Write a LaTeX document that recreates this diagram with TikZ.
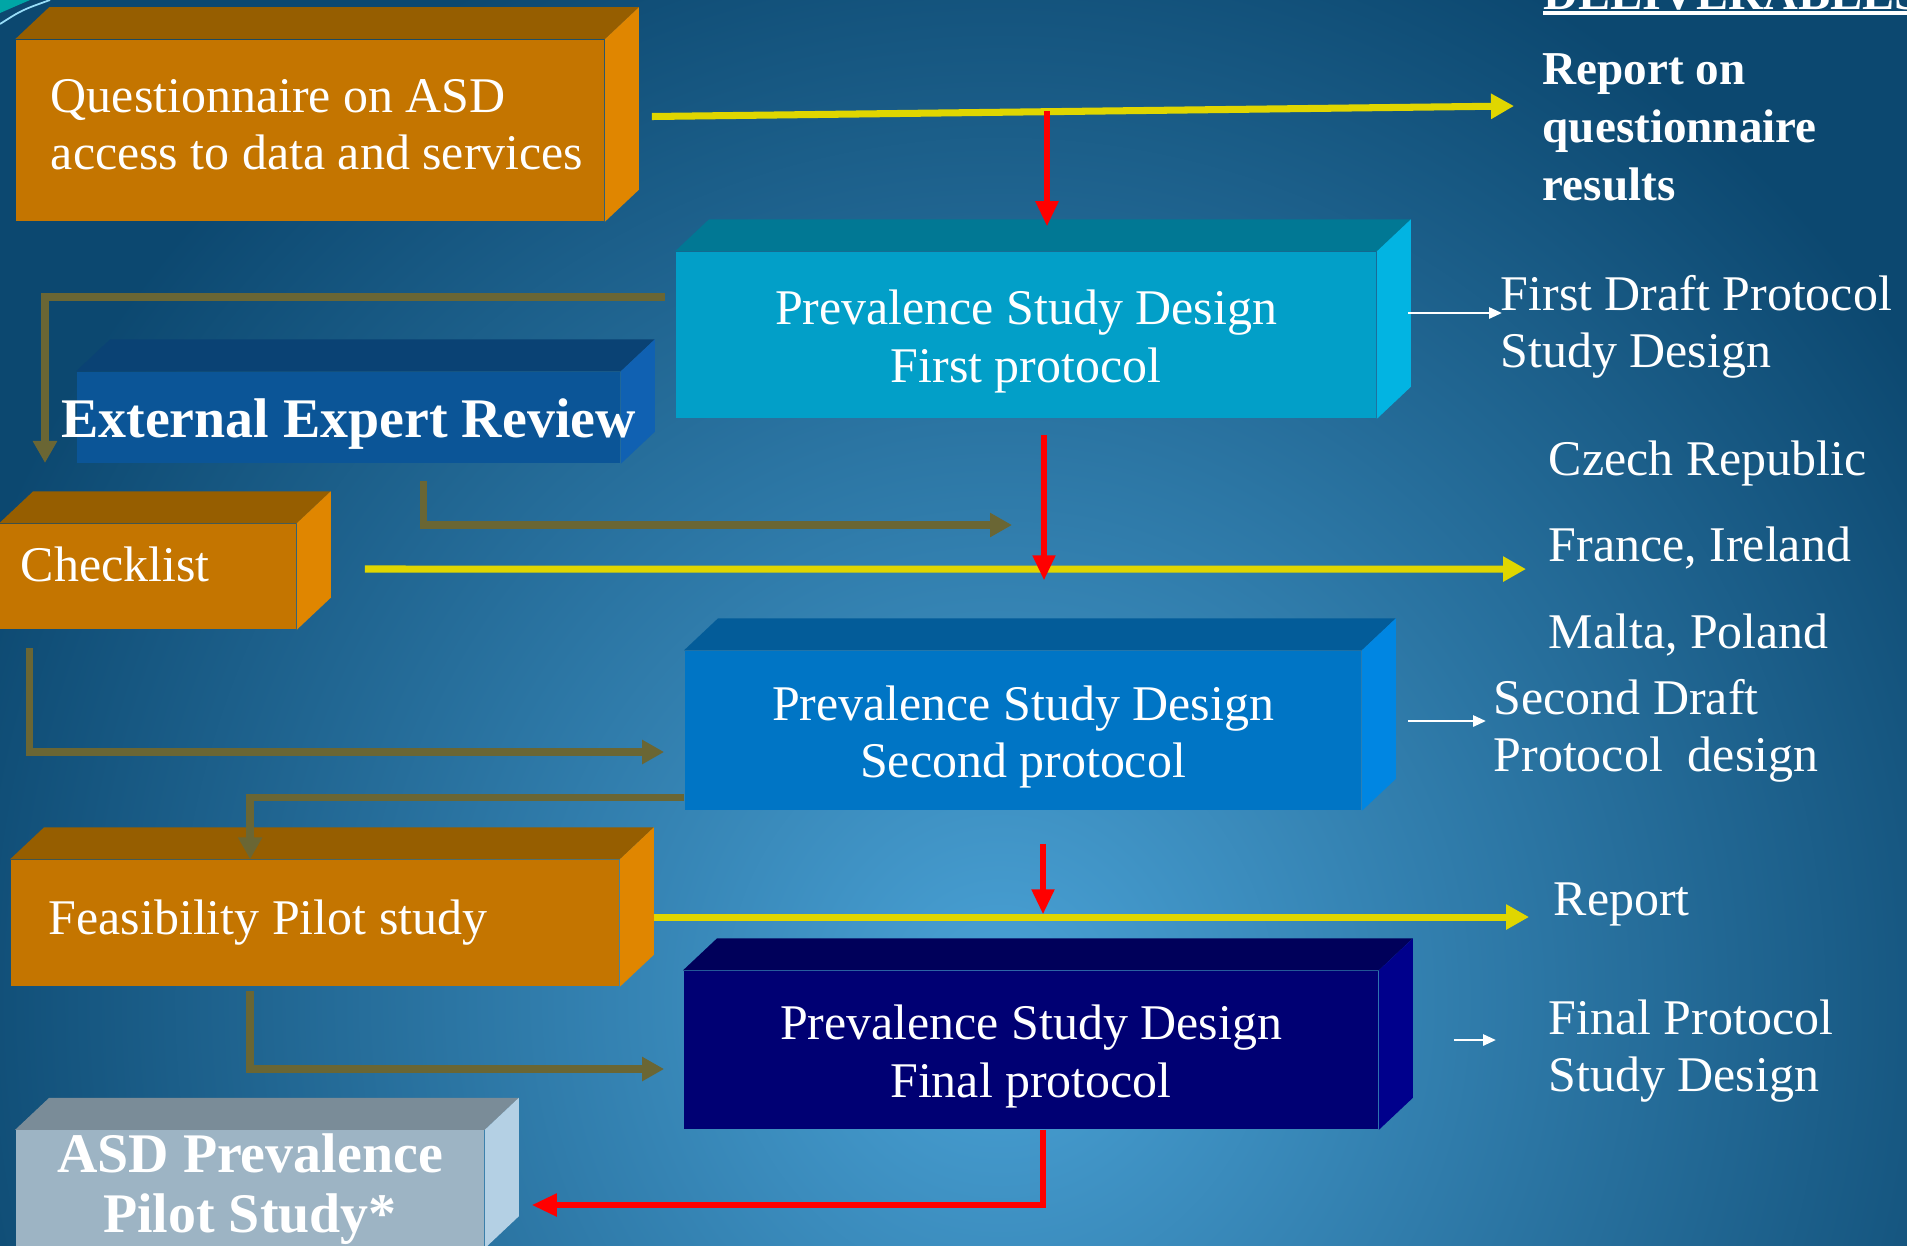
\documentclass[tikz,border=0pt]{standalone}
\usepackage{fontspec}
\setmainfont{Liberation Serif}
\usetikzlibrary{arrows.meta,backgrounds,positioning}

\definecolor{bgdark}{HTML}{0C4870}
\definecolor{bglight}{HTML}{4AA2D6}
\definecolor{ochre}{HTML}{C47500}
\definecolor{ochretop}{HTML}{965E00}
\definecolor{ochreside}{HTML}{E08600}
\definecolor{cyanfront}{HTML}{029FC8}
\definecolor{cyantop}{HTML}{017894}
\definecolor{cyanside}{HTML}{02B4E2}
\definecolor{navyfront}{HTML}{0B5597}
\definecolor{navytop}{HTML}{0A4274}
\definecolor{navyside}{HTML}{1061B2}
\definecolor{azurefront}{HTML}{0075C5}
\definecolor{azuretop}{HTML}{035C99}
\definecolor{azureside}{HTML}{0086E2}
\definecolor{inkfront}{HTML}{000073}
\definecolor{inktop}{HTML}{00005A}
\definecolor{inkside}{HTML}{00008C}
\definecolor{slatefront}{HTML}{9DB4C4}
\definecolor{slatetop}{HTML}{7A8C98}
\definecolor{slateside}{HTML}{B4D0E4}
\definecolor{linkolive}{HTML}{6A6634}
\definecolor{lemon}{HTML}{E0D600}

\tikzset{
  slab/.style={
      rectangle,
      inner sep=0pt,
      text=white,
      fill=#1
  },
  body/.style={font=\fontsize{14.2}{16.3}\selectfont},
  heavy/.style={font=\fontsize{15.9}{17}\selectfont\bfseries},
  deliv/.style={anchor=west, align=left, text=white, inner sep=0pt,
      font=\fontsize{14.2}{16.2}\selectfont},
  flow/.style={draw=lemon, line width=2pt, ->, >={Triangle[length=0.23cm,width=0.24cm]}},
  feedback/.style={draw=linkolive, line width=2.1pt, ->, >={Triangle[length=0.22cm,width=0.23cm]}},
  redflow/.style={draw=red, line width=1.5pt, ->, >={Triangle[length=0.25cm,width=0.22cm]}},
  deliverarrow/.style={draw=white, line width=0.8pt, ->, >={Triangle[length=0.13cm,width=0.11cm]}}
}

% top and right faces of a slab node
\newcommand{\slabfaces}[3]{%
  \fill[#2] (#1.north west) -- ++(34,-32) -- ([shift={(34,-32)}]#1.north east) -- (#1.north east) -- cycle;
  \fill[#3] (#1.north east) -- ++(34,-32) -- ([shift={(34,-32)}]#1.south east) -- (#1.south east) -- cycle;
}

\begin{document}
\begin{tikzpicture}[x=0.01cm,y=-0.01cm]
    \useasboundingbox (0,0) rectangle (1907,1245);
    \clip (0,0) rectangle (1907,1245);
    \begin{scope}[on background layer]
      \clip (0,0) rectangle (1907,1245);
      \fill[bgdark] (0,0) rectangle (1907,1245);
      \shade[inner color=bglight, outer color=bgdark] (1000,1000) ellipse (1100 and 1150);
      \fill[teal!70!cyan] (0,0) -- (30,0) .. controls (16,6) .. (0,13) -- cycle;
      \draw[cyan!40!white, line width=0.5pt] (0,24) .. controls (22,10) .. (50,0);
    \end{scope}

    % boxes
    \node[slab=ochre, body, minimum height=1.81cm, text width=5.88cm, align=flush left, text height=0.22cm] (quest) at (310,130.5)
      {\hspace*{0.35cm}Questionnaire on ASD\\\hspace*{0.35cm}access to data and services};
    \node[slab=cyanfront, body, minimum width=7cm, minimum height=1.66cm, align=center, text height=1.05cm] (first) at (1026,335)
      {Prevalence Study Design\\First protocol};
    \node[slab=navyfront, heavy, minimum width=5.43cm, minimum height=0.91cm, text height=0.52cm, text depth=0.12cm] (review) at (348.5,417.5)
      {\makebox[5.43cm]{External Expert Review}};
    \node[slab=ochre, body, minimum height=1.05cm, text width=2.96cm, align=flush left, text depth=0.24cm] (check) at (148,576.5)
      {\hspace*{0.21cm}Checklist};
    \node[slab=azurefront, body, minimum width=6.76cm, minimum height=1.59cm, align=center, text height=1.05cm] (second) at (1023,730.5)
      {Prevalence Study Design\\Second protocol};
    \node[slab=ochre, body, minimum height=1.26cm, text width=6.08cm, align=flush left] (feas) at (315,923)
      {\hspace*{0.38cm}Feasibility Pilot study};
    \node[slab=inkfront, body, minimum width=6.94cm, minimum height=1.58cm, align=center, text height=1.05cm] (final) at (1031,1050)
      {Prevalence Study Design\\Final protocol};
    \node[slab=slatefront, heavy, minimum width=4.68cm, minimum height=1.17cm, align=center] (pilot) at (250,1189)
      {ASD Prevalence\\Pilot Study*};

    \begin{scope}[on background layer]
      \slabfaces{quest}{ochretop}{ochreside}
      \slabfaces{first}{cyantop}{cyanside}
      \slabfaces{review}{navytop}{navyside}
      \slabfaces{check}{ochretop}{ochreside}
      \slabfaces{second}{azuretop}{azureside}
      \slabfaces{feas}{ochretop}{ochreside}
      \slabfaces{final}{inktop}{inkside}
      \slabfaces{pilot}{slatetop}{slateside}
    \end{scope}

    % deliverables
    \node[deliv, font=\fontsize{13.7}{15}\selectfont\bfseries, anchor=base west] (delivhead) at (1543,9) {DELIVERABLES};
    \draw[white, line width=1pt] ([yshift=-1.2pt]delivhead.base west) -- ([yshift=-1.2pt]delivhead.base east);
    \node[deliv, font=\fontsize{13.4}{16.5}\selectfont\bfseries] (rep1) at (1542,127) {Report on\\questionnaire\\results};
    \node[deliv] (draft1) at (1500,327) {First Draft Protocol\\Study Design};
    \node[deliv] (czech) at (1548,463) {Czech Republic};
    \node[deliv, below=0.85cm of czech.west, anchor=west] (france) {France, Ireland};
    \node[deliv, below=0.87cm of france.west, anchor=west] (malta) {Malta, Poland};
    \node[deliv] (draft2) at (1493,731) {Second Draft\\Protocol\ \ design};
    \node[deliv] (report) at (1553,904) {Report};
    \node[deliv] (finalp) at (1548,1051) {Final Protocol\\Study Design};

    \coordinate (tap) at (1047,111);
    \coordinate (revin) at (45,463);
    \coordinate (revout) at (1012,525);

    % olive loops
    \draw[feedback] ([shift={(-10,-38)}]first.west) -| (revin);
    \draw[feedback] ([shift={(75,17)}]review.south) |- (revout);
    \draw[feedback] ([shift={(30,18)}]check.south west) |- ([shift={(-20,21.5)}]second.west);
    \draw[feedback] ([shift={(0,-13)}]second.south west) -| ([shift={(240,0)}]feas.north west);
    \draw[feedback] ([shift={(240,4)}]feas.south west) |- ([shift={(-19,19)}]final.west);

    % yellow to deliverables
    \draw[flow] ([shift={(47,-14)}]quest.east) -- ([shift={(-28,-21)}]rep1.west);
    \draw[flow] ([shift={(68,-7.5)}]check.east) -- ([shift={(-22,21)}]france.west);
    \draw[flow] ([shift={(34,-6)}]feas.east) -- ([shift={(-24,13)}]report.west);

    % red main line
    \draw[redflow] (tap) -- ([yshift=0.25cm]tap |- first.north);
    \draw[redflow] ([shift={(18,16)}]first.south) -- ([shift={(21,-70)}]second.north);
    \draw[redflow] ([shift={(20,33)}]second.south) -- ([shift={(12,-56)}]final.north);
    \draw[redflow] ([shift={(12,0)}]final.south) |- ([shift={(47,16)}]pilot.east);

    % white outputs
    \draw[deliverarrow] ([shift={(31,-22)}]first.east) -- ([shift={(2,-14)}]draft1.west);
    \draw[deliverarrow] ([shift={(46,-9.5)}]second.east) -- ([shift={(-7,-10)}]draft2.west);
    \draw[deliverarrow] ([shift={(75,-10)}]final.east) -- ([shift={(-52,-11)}]finalp.west);
\end{tikzpicture}
\end{document}
